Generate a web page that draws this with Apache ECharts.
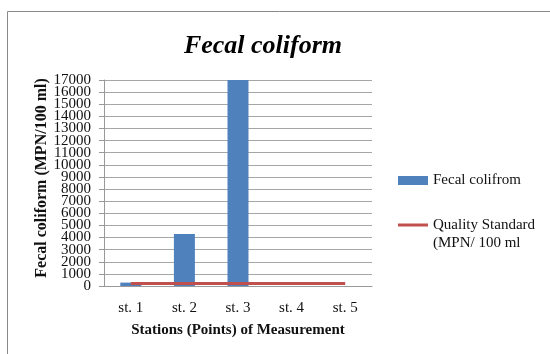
<!DOCTYPE html>
<html>
<head>
<meta charset="utf-8">
<script src="https://cdn.jsdelivr.net/npm/echarts@6/dist/echarts.min.js"></script>
<style>
  html, body { margin: 0; padding: 0; background: #fff; }
  #chart { width: 550px; height: 354px; }
</style>
</head>
<body>
<div id="chart"></div>
<script>
// Stations along the sampling route
const stations = ['st. 1', 'st. 2', 'st. 3', 'st. 4', 'st. 5'];
// Measured fecal coliform (MPN/100 ml)
const fecalValues = [280, 4300, 17000, 0, 0];
// Quality standard (MPN/100 ml) at each station
const standardValues = [200, 200, 200, 200, 200];
// Y axis range
const yMin = 0;
const yMax = 17000;
const yStep = 1000;

const serif = '"Liberation Serif", "Times New Roman", serif';
const chart = echarts.init(document.getElementById('chart'), null, { renderer: 'canvas' });

// The tick labels sit closer together than their font height, so they are
// split over two overlaid axes (even / odd thousands) to keep every one drawn.
function tickLabels(odd) {
  return {
    fontFamily: serif, fontSize: 15, color: '#111', margin: 13, lineHeight: 12,
    showMinLabel: true, showMaxLabel: true, hideOverlap: false,
    formatter: function (v) {
      const isOdd = Math.round(v / yStep) % 2 === 1;
      return isOdd === odd ? String(v) : '';
    }
  };
}

chart.setOption({
  backgroundColor: '#fff',
  animation: false,
  graphic: [{
    type: 'rect',
    shape: { x: 7.5, y: 11.5, width: 700, height: 500 },
    style: { fill: 'none', stroke: '#8a8a8a', lineWidth: 1 },
    silent: true
  }],
  title: {
    text: 'Fecal coliform',
    left: 258,
    top: 28,
    textAlign: 'center',
    textStyle: { fontFamily: serif, fontSize: 26, fontWeight: 'bold', fontStyle: 'italic', color: '#000' }
  },
  legend: [{
    data: ['Fecal colifrom'],
    left: 398,
    top: 173,
    padding: 0,
    icon: 'rect',
    itemWidth: 30,
    itemHeight: 9,
    textStyle: { fontFamily: serif, fontSize: 15, color: '#111' }
  }, {
    data: ['Quality Standard (MPN/ 100 ml'],
    left: 398,
    top: 198,
    padding: 0,
    icon: 'rect',
    itemWidth: 30,
    itemHeight: 3,
    // blank first row keeps the first text line level with the icon
    formatter: function () { return ' \nQuality Standard\n(MPN/ 100 ml'; },
    textStyle: { fontFamily: serif, fontSize: 15, lineHeight: 18, color: '#111' }
  }],
  grid: { left: 104, right: 178, top: 80, bottom: 68 },
  xAxis: {
    type: 'category',
    data: stations,
    name: 'Stations (Points) of Measurement',
    nameLocation: 'middle',
    nameGap: 37,
    nameTextStyle: { fontFamily: serif, fontSize: 15, fontWeight: 'bold', color: '#111' },
    axisLine: { lineStyle: { color: '#999', width: 1 } },
    axisTick: { show: false },
    axisLabel: { fontFamily: serif, fontSize: 15, color: '#111', margin: 15 }
  },
  yAxis: [{
    type: 'value',
    position: 'left',
    min: yMin,
    max: yMax,
    interval: yStep,
    name: 'Fecal coliform (MPN/100 ml)',
    nameLocation: 'middle',
    nameRotate: 90,
    nameGap: 54,
    nameTextStyle: { fontFamily: serif, fontSize: 16, fontWeight: 'bold', color: '#111', padding: [0, 0, 0, 10] },
    axisLine: { show: true, lineStyle: { color: '#999', width: 1 } },
    axisTick: { show: true, length: 5, lineStyle: { color: '#999' } },
    axisLabel: tickLabels(false),
    splitLine: { lineStyle: { color: '#a6a6a6', width: 1 } }
  }, {
    type: 'value',
    position: 'left',
    offset: 0,
    min: yMin,
    max: yMax,
    interval: yStep,
    axisLine: { show: false },
    axisTick: { show: false },
    splitLine: { show: false },
    axisLabel: tickLabels(true)
  }],
  series: [{
    name: 'Fecal colifrom',
    type: 'bar',
    yAxisIndex: 0,
    data: fecalValues,
    barWidth: 21,
    itemStyle: { color: '#4F81BD' }
  }, {
    name: 'Quality Standard (MPN/ 100 ml',
    type: 'line',
    yAxisIndex: 0,
    data: standardValues,
    symbol: 'none',
    lineStyle: { color: '#C0504D', width: 3 },
    itemStyle: { color: '#C0504D' }
  }]
});
</script>
</body>
</html>
